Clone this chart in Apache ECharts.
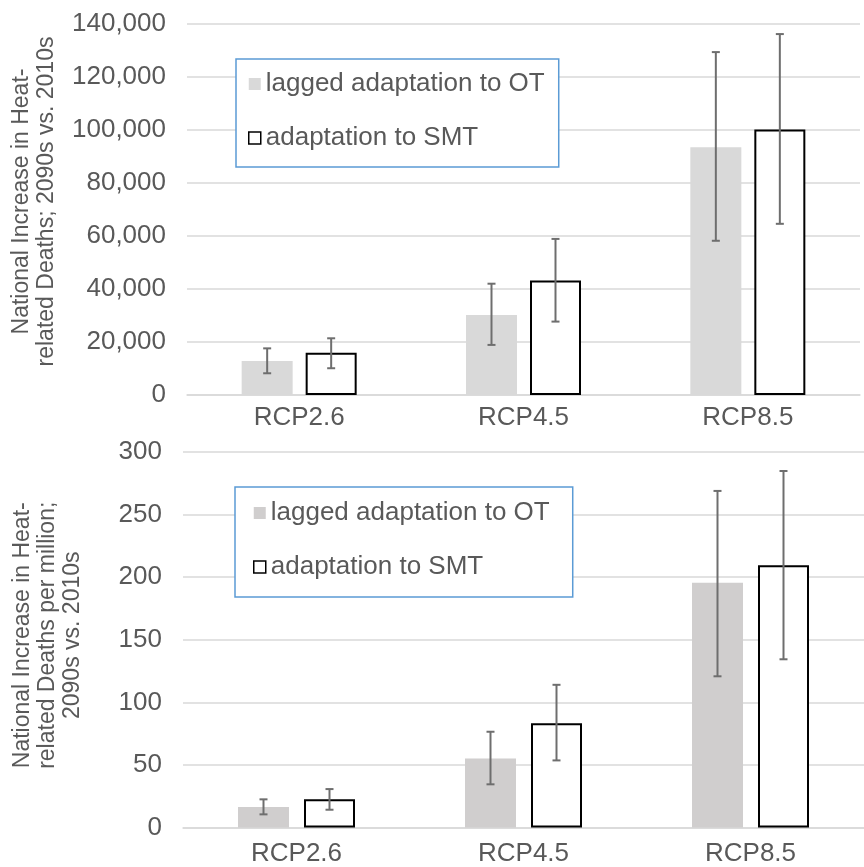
<!DOCTYPE html>
<html>
<head>
<meta charset="utf-8">
<script src="https://cdn.jsdelivr.net/npm/echarts@6/dist/echarts.min.js"></script>
<style>
html,body{margin:0;padding:0;background:#fff;}
#chart{width:864px;height:867px;}
</style>
</head>
<body>
<div id="chart"></div>
<script>
// ---------------- data ----------------
const categories = ['RCP2.6', 'RCP4.5', 'RCP8.5'];
const seriesNames = ['lagged adaptation to OT', 'adaptation to SMT'];

// Top panel: national increase in heat-related deaths
const deathsLagged    = [12800, 30200, 93500];
const deathsLaggedLo  = [8200, 18900, 58200];
const deathsLaggedHi  = [17600, 42000, 129400];
const deathsSMT       = [15900, 43200, 100200];
const deathsSMTLo     = [10100, 27700, 64600];
const deathsSMTHi     = [21400, 58900, 136200];

// Bottom panel: per million
const rateLagged    = [16.4, 55.2, 195.5];
const rateLaggedLo  = [10.5, 34.5, 120.8];
const rateLaggedHi  = [22.5, 76.5, 268.9];
const rateSMT       = [22.5, 83.2, 209.6];
const rateSMTLo     = [14.2, 53.6, 134.4];
const rateSMTHi     = [30.7, 114.0, 284.8];

const topTitle = 'National Increase in Heat-\nrelated Deaths; 2090s vs. 2010s';
const bottomTitle = 'National Increase in Heat-\nrelated Deaths per million;\n2090s vs. 2010s';

// ---------------- styles ----------------
const FONT = '"Liberation Sans", Arial, Helvetica, sans-serif';
const TXT = '#595959';
const GRID = '#D9D9D9';
const ERR = '#6E6E6E';
const GREY_TOP = '#D9D9D9';
const GREY_BOT = '#D0CECE';
const BAR_W = 51;
const GAP_TOP = 13;
const GAP_BOT = 15;

function errData(lo, hi) {
  return lo.map((v, i) => [i, v, hi[i]]);
}
function errRender(offset) {
  return function (params, api) {
    const i = api.value(0);
    const pLo = api.coord([i, api.value(1)]);
    const pHi = api.coord([i, api.value(2)]);
    const x = pHi[0] + offset;
    const st = { stroke: ERR, lineWidth: 2 };
    const c = 4;
    return {
      type: 'group',
      children: [
        { type: 'line', shape: { x1: x, y1: pHi[1], x2: x, y2: pLo[1] }, style: st },
        { type: 'line', shape: { x1: x - c, y1: pHi[1], x2: x + c, y2: pHi[1] }, style: st },
        { type: 'line', shape: { x1: x - c, y1: pLo[1], x2: x + c, y2: pLo[1] }, style: st }
      ]
    };
  };
}

function xAxisCfg(gridIndex, margin) {
  return {
    type: 'category', gridIndex: gridIndex, data: categories,
    axisLine: { lineStyle: { color: GRID, width: 1.5 } },
    axisTick: { show: false },
    axisLabel: { color: TXT, fontSize: 26, fontFamily: FONT, margin: margin }
  };
}
function yAxisCfg(gridIndex, max, interval, name, nameGap, fmt, pad) {
  return {
    type: 'value', gridIndex: gridIndex, min: 0, max: max, interval: interval,
    name: name, nameLocation: 'middle', nameRotate: 90, nameGap: nameGap,
    nameTextStyle: { color: TXT, fontSize: 23, fontFamily: FONT, lineHeight: 25, align: 'center', padding: pad },
    axisLine: { show: false }, axisTick: { show: false },
    splitLine: { lineStyle: { color: GRID, width: 1.5 } },
    axisLabel: { color: TXT, fontSize: 26, fontFamily: FONT, margin: 21, formatter: fmt }
  };
}
function legendCfg(left, top, padding, greyColor) {
  return {
    orient: 'vertical', left: left, top: top, padding: padding,
    itemWidth: 12, itemHeight: 12, itemGap: 28,
    borderColor: '#5B9BD5', borderWidth: 1.5, backgroundColor: '#fff',
    textStyle: { color: TXT, fontSize: 26, fontFamily: FONT, lineHeight: 26 },
    selectedMode: false,
    data: [
      { name: seriesNames[0], icon: 'rect', itemStyle: { color: greyColor, borderWidth: 0 } },
      { name: seriesNames[1], icon: 'rect', itemStyle: { color: '#fff', borderColor: '#000', borderWidth: 1.5 } }
    ]
  };
}

const option = {
  animation: false,
  backgroundColor: '#fff',
  textStyle: { fontFamily: FONT },
  grid: [
    { left: 187, top: 24, width: 673, height: 371 },
    { left: 183, top: 452, width: 687, height: 375.5 }
  ],
  legend: [
    legendCfg(236, 59, [12, 14, 16, 12], GREY_TOP),
    legendCfg(235, 487, [13, 23, 17, 18], GREY_BOT)
  ],
  xAxis: [xAxisCfg(0, 10), xAxisCfg(1, 13)],
  yAxis: [
    yAxisCfg(0, 140000, 20000, topTitle, 128, v => v.toLocaleString('en-US'), [0, 0, 0, 16]),
    yAxisCfg(1, 300, 50, bottomTitle, 98, v => String(v), [0, 0, 0, 9])
  ],
  series: [
    { name: seriesNames[0], type: 'bar', xAxisIndex: 0, yAxisIndex: 0, data: deathsLagged,
      barWidth: BAR_W, barGap: (GAP_TOP / BAR_W * 100) + '%', itemStyle: { color: GREY_TOP } },
    { name: seriesNames[1], type: 'bar', xAxisIndex: 0, yAxisIndex: 0, data: deathsSMT,
      barWidth: BAR_W, itemStyle: { color: '#fff', borderColor: '#000', borderWidth: 2 } },
    { name: seriesNames[0], type: 'bar', xAxisIndex: 1, yAxisIndex: 1, data: rateLagged,
      barWidth: BAR_W, barGap: (GAP_BOT / BAR_W * 100) + '%', itemStyle: { color: GREY_BOT } },
    { name: seriesNames[1], type: 'bar', xAxisIndex: 1, yAxisIndex: 1, data: rateSMT,
      barWidth: BAR_W, itemStyle: { color: '#fff', borderColor: '#000', borderWidth: 2 } },
    { type: 'custom', xAxisIndex: 0, yAxisIndex: 0, z: 5, data: errData(deathsLaggedLo, deathsLaggedHi),
      encode: { x: 0, y: [1, 2] }, renderItem: errRender(-(BAR_W + GAP_TOP) / 2) },
    { type: 'custom', xAxisIndex: 0, yAxisIndex: 0, z: 5, data: errData(deathsSMTLo, deathsSMTHi),
      encode: { x: 0, y: [1, 2] }, renderItem: errRender((BAR_W + GAP_TOP) / 2) },
    { type: 'custom', xAxisIndex: 1, yAxisIndex: 1, z: 5, data: errData(rateLaggedLo, rateLaggedHi),
      encode: { x: 0, y: [1, 2] }, renderItem: errRender(-(BAR_W + GAP_BOT) / 2) },
    { type: 'custom', xAxisIndex: 1, yAxisIndex: 1, z: 5, data: errData(rateSMTLo, rateSMTHi),
      encode: { x: 0, y: [1, 2] }, renderItem: errRender((BAR_W + GAP_BOT) / 2) }
  ]
};

const chart = echarts.init(document.getElementById('chart'), null, { renderer: 'canvas' });
chart.setOption(option);
</script>
</body>
</html>
